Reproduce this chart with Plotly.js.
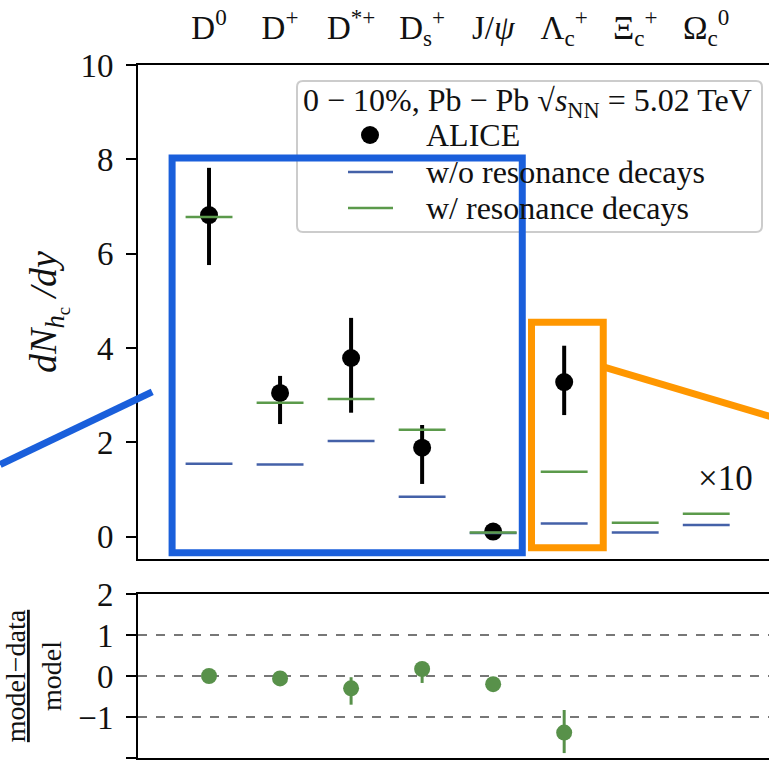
<!DOCTYPE html>
<html>
<head>
<meta charset="utf-8">
<script src="https://cdn.plot.ly/plotly-3.0.1.min.js"></script>
<style>
html,body{margin:0;padding:0;overflow:hidden;background:#fff;width:769px;height:771px;}
#chart{width:800px;height:771px;}
</style>
</head>
<body>
<div id="chart"></div>
<script>
// ---- data ----
const categories = ['D<sup>0</sup>', 'D<sup>+</sup>', 'D<sup>*+</sup>', 'D<sub>s</sub><sup>+</sup>', 'J/<i>ψ</i>', 'Λ<sub>c</sub><sup>+</sup>', 'Ξ<sub>c</sub><sup>+</sup>', 'Ω<sub>c</sub><sup>0</sup>'];
const aliceVals  = [6.82, 3.05, 3.79, 1.89, 0.11, 3.28];
const aliceErrHi = [1.00, 0.36, 0.85, 0.48, 0.02, 0.77];
const aliceErrLo = [1.06, 0.66, 1.16, 0.77, 0.02, 0.70];
const withoutRes = [1.55, 1.53, 2.03, 0.85, 0.08, 0.28, 0.09, 0.25];
const withRes    = [6.78, 2.84, 2.92, 2.27, 0.09, 1.38, 0.30, 0.49];
const ratioVals  = [0.00, -0.06, -0.30, 0.17, -0.20, -1.38];
const ratioErrHi = [0.05, 0.05, 0.27, 0.15, 0.06, 0.55];
const ratioErrLo = [0.05, 0.05, 0.40, 0.34, 0.06, 0.50];
const yTicksTop = [0, 2, 4, 6, 8, 10];
const yTicksBot = [-2, -1, 0, 1, 2];
const legendHeader = '0 − 10%, Pb − Pb √<i>s</i><sub>NN</sub> = 5.02 TeV';
const legendNames = ['ALICE', 'w/o resonance decays', 'w/ resonance decays'];

// ---- helpers ----
const idx = categories.map((_, i) => i);
const HALF = 0.33;
function segments(vals) {
  const xs = [], ys = [];
  vals.forEach((v, i) => { xs.push(i - HALF, i + HALF, null); ys.push(v, v, null); });
  return {x: xs, y: ys};
}
const W = 800, H = 771, ML = 138, MR = 0, MT = 65, MB = 13;
const PW = W - ML - MR, PH = H - MT - MB;
const XR = [-1.0, 8.32];
const Y1R = [-0.47, 10];
const Y1D = [0.2872, 1];
const Y2R = [-2, 2];
const Y2D = [0, 0.2367];
function px(x) { return (x - XR[0]) / (XR[1] - XR[0]); }
function py1(y) { return Y1D[0] + (y - Y1R[0]) / (Y1R[1] - Y1R[0]) * (Y1D[1] - Y1D[0]); }
// pixel -> paper (for the hand-built legend box)
function ppx(p) { return (p - ML) / PW; }
function ppy(p) { return (H - MB - p) / PH; }

const FONT = 'Liberation Serif, DejaVu Serif, serif';
const TXT = '#111';
const BLUE = '#4461a8';
const GREEN = '#5b9a4b';
const MGREEN = '#58914a';
const HBLUE = '#1a5fdb';
const HORANGE = '#ff9700';

const sWo = segments(withoutRes);
const sW = segments(withRes);

const traces = [
  {
    type: 'scatter', mode: 'markers', name: legendNames[0], showlegend: false,
    x: idx.slice(0, aliceVals.length), y: aliceVals,
    marker: {color: 'black', size: 18},
    error_y: {type: 'data', symmetric: false, array: aliceErrHi, arrayminus: aliceErrLo, thickness: 4, width: 0, color: 'black'},
    xaxis: 'x', yaxis: 'y'
  },
  {
    type: 'scatter', mode: 'lines', name: legendNames[1], showlegend: false,
    x: sWo.x, y: sWo.y, line: {color: BLUE, width: 2.5}, connectgaps: false,
    xaxis: 'x', yaxis: 'y'
  },
  {
    type: 'scatter', mode: 'lines', name: legendNames[2], showlegend: false,
    x: sW.x, y: sW.y, line: {color: GREEN, width: 2.5}, connectgaps: false,
    xaxis: 'x', yaxis: 'y'
  },
  {
    type: 'scatter', mode: 'markers', showlegend: false,
    x: idx.slice(0, ratioVals.length), y: ratioVals,
    marker: {color: MGREEN, size: 16},
    error_y: {type: 'data', symmetric: false, array: ratioErrHi, arrayminus: ratioErrLo, thickness: 3, width: 0, color: MGREEN},
    xaxis: 'x2', yaxis: 'y2'
  }
];

// legend geometry (pixels)
const LB = {x0: 297, x1: 762, y0: 81, y1: 232, r: 6};
const rowY = [135, 172, 208];
const symX0 = 348, symX1 = 393, symC = 370, txtX = 427;
function roundRectPath(b) {
  const x0 = ppx(b.x0), x1 = ppx(b.x1), y0 = ppy(b.y0), y1 = ppy(b.y1);
  const rx = b.r / PW, ry = b.r / PH;
  return `M${x0 + rx},${y0} L${x1 - rx},${y0} Q${x1},${y0} ${x1},${y0 - ry} L${x1},${y1 + ry} Q${x1},${y1} ${x1 - rx},${y1} L${x0 + rx},${y1} Q${x0},${y1} ${x0},${y1 + ry} L${x0},${y0 - ry} Q${x0},${y0} ${x0 + rx},${y0} Z`;
}

const layout = {
  width: W, height: H,
  margin: {l: ML, r: MR, t: MT, b: MB, pad: 0},
  paper_bgcolor: 'white', plot_bgcolor: 'white',
  font: {family: FONT, color: TXT, size: 30},
  showlegend: false,
  xaxis: {
    domain: [0, 1], range: XR, anchor: 'y', side: 'top',
    tickmode: 'array', tickvals: idx, ticktext: categories,
    ticks: '', ticklabelstandoff: 11,
    tickfont: {family: FONT, size: 33, color: TXT},
    showline: true, linecolor: 'black', linewidth: 2, mirror: true,
    showgrid: false, zeroline: false, fixedrange: true
  },
  yaxis: {
    domain: Y1D, range: Y1R, anchor: 'x',
    tickmode: 'array', tickvals: yTicksTop,
    ticks: 'outside', ticklen: 10, tickwidth: 2, tickcolor: 'black', ticklabelstandoff: 6,
    tickfont: {family: FONT, size: 33, color: TXT},
    showline: true, linecolor: 'black', linewidth: 2,
    showgrid: false, zeroline: false, fixedrange: true,
    title: {text: '<i>dN</i><sub><i>h</i><sub>c</sub></sub><i> /dy</i>', font: {family: FONT, size: 38, color: TXT}, standoff: 12}
  },
  xaxis2: {
    domain: [0, 1], range: XR, anchor: 'y2',
    showticklabels: false, ticks: '',
    showline: true, linecolor: 'black', linewidth: 2, mirror: true,
    showgrid: false, zeroline: false, fixedrange: true
  },
  yaxis2: {
    domain: Y2D, range: Y2R, anchor: 'x2',
    tickmode: 'array', tickvals: yTicksBot,
    ticks: 'outside', ticklen: 10, tickwidth: 2, tickcolor: 'black', ticklabelstandoff: 6,
    tickfont: {family: FONT, size: 33, color: TXT},
    showline: true, linecolor: 'black', linewidth: 2,
    showgrid: true, gridcolor: '#777777', gridwidth: 1.5, griddash: 'dash',
    zeroline: false, fixedrange: true,
    title: {text: '<u>model−data</u><br>model', font: {family: FONT, size: 28, color: TXT}, standoff: 10}
  },
  shapes: [
    // legend frame
    {type: 'path', xref: 'paper', yref: 'paper', path: roundRectPath(LB),
     line: {color: '#cccccc', width: 2}, fillcolor: 'rgba(255,255,255,0.8)', layer: 'below'},
    // legend symbols
    {type: 'circle', xref: 'paper', yref: 'paper', x0: ppx(symC - 9), x1: ppx(symC + 9), y0: ppy(rowY[0] + 9), y1: ppy(rowY[0] - 9),
     line: {width: 0}, fillcolor: 'black'},
    {type: 'line', xref: 'paper', yref: 'paper', x0: ppx(symX0), x1: ppx(symX1), y0: ppy(rowY[1]), y1: ppy(rowY[1]),
     line: {color: BLUE, width: 2.5}},
    {type: 'line', xref: 'paper', yref: 'paper', x0: ppx(symX0), x1: ppx(symX1), y0: ppy(rowY[2]), y1: ppy(rowY[2]),
     line: {color: GREEN, width: 2.5}},
    // blue highlight box & connector
    {type: 'rect', xref: 'x', yref: 'y', x0: -0.52, x1: 4.41, y0: -0.34, y1: 8.03,
     line: {color: HBLUE, width: 7}, layer: 'above'},
    {type: 'line', xref: 'paper', yref: 'paper', x0: px(-2.94), y0: py1(1.53), x1: px(-0.80), y1: py1(3.07),
     line: {color: HBLUE, width: 7}, layer: 'above'},
    // orange highlight box & connector
    {type: 'rect', xref: 'x', yref: 'y', x0: 4.54, x1: 5.55, y0: -0.23, y1: 4.55,
     line: {color: HORANGE, width: 7}, layer: 'above'},
    {type: 'line', xref: 'paper', yref: 'paper', x0: px(5.55), y0: py1(3.6), x1: px(7.9), y1: py1(2.55),
     line: {color: HORANGE, width: 7}, layer: 'above'}
  ],
  annotations: [
    {xref: 'x', yref: 'y', x: 7.27, y: 1.23, text: '×10', showarrow: false,
     font: {family: FONT, size: 35, color: TXT}},
    {xref: 'paper', yref: 'paper', x: ppx(301), y: ppy(103), xanchor: 'left', yanchor: 'middle',
     text: legendHeader, showarrow: false, font: {family: FONT, size: 32, color: TXT}},
    {xref: 'paper', yref: 'paper', x: ppx(txtX - 3), y: ppy(rowY[0]), xanchor: 'left', yanchor: 'middle',
     text: legendNames[0], showarrow: false, font: {family: FONT, size: 32, color: TXT}},
    {xref: 'paper', yref: 'paper', x: ppx(txtX - 3), y: ppy(rowY[1]), xanchor: 'left', yanchor: 'middle',
     text: legendNames[1], showarrow: false, font: {family: FONT, size: 32, color: TXT}},
    {xref: 'paper', yref: 'paper', x: ppx(txtX - 3), y: ppy(rowY[2]), xanchor: 'left', yanchor: 'middle',
     text: legendNames[2], showarrow: false, font: {family: FONT, size: 32, color: TXT}}
  ]
};

Plotly.newPlot('chart', traces, layout, {staticPlot: true, displayModeBar: false});
</script>
</body>
</html>
